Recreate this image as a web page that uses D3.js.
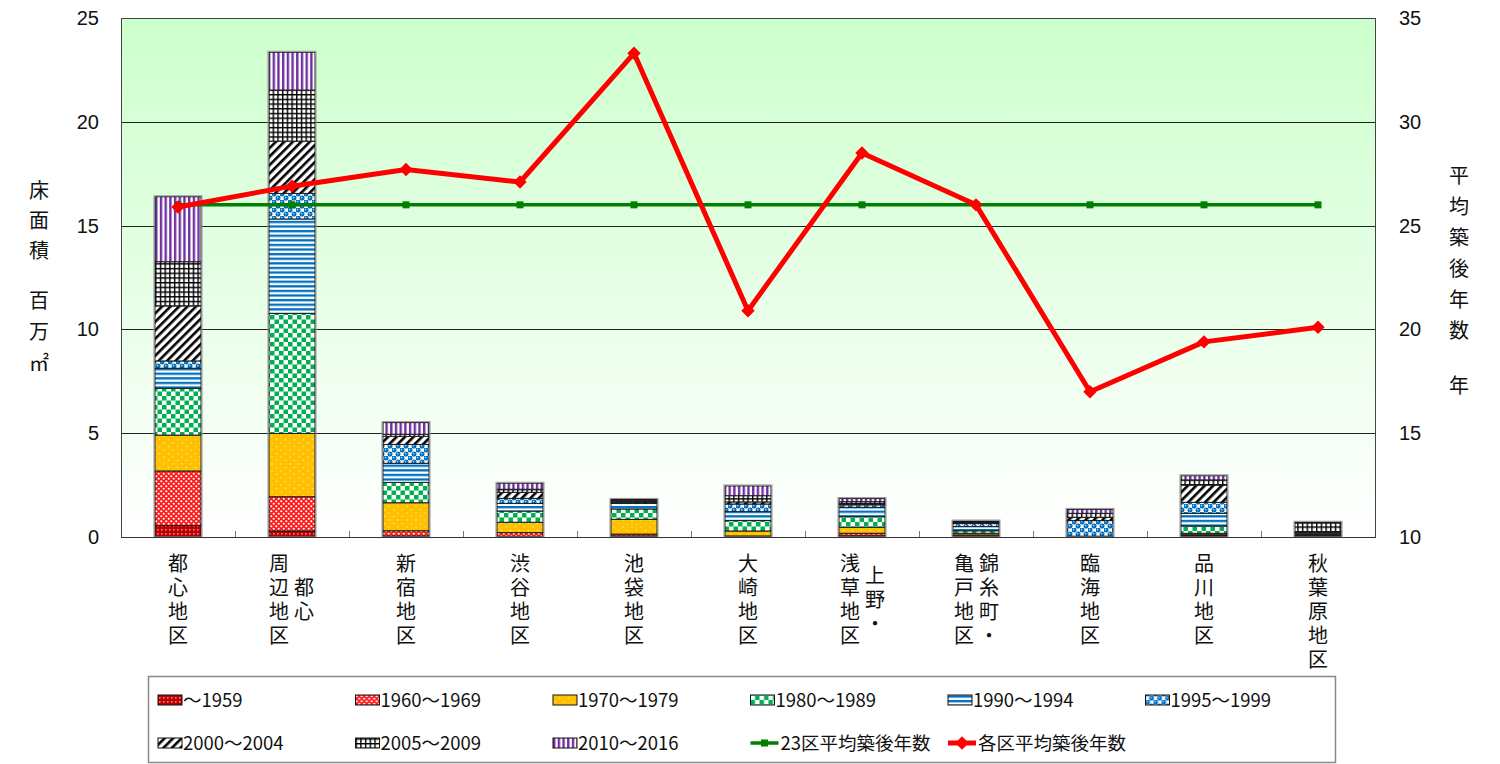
<!DOCTYPE html>
<html>
<head>
<meta charset="utf-8">
<script src="https://cdn.jsdelivr.net/npm/d3@7"></script>
<style>
  body { margin: 0; background: #fff; }
  svg { display: block; }
</style>
</head>
<body>
<svg id="chart" width="1500" height="764"></svg>
<script>
'use strict';

// ---- data ----
var districts = ['都心地区', '周辺都心地区', '新宿地区', '渋谷地区', '池袋地区', '大崎地区',
  '浅草・上野地区', '錦糸町・亀戸地区', '臨海地区', '品川地区', '秋葉原地区'];

// how the district names are broken into vertical columns: [text, row offset, x offset]
var districtLabelCols = [
  [['都心地区', 0, 0]],
  [['周辺地区', 0, -13], ['都心', 1, 12]],
  [['新宿地区', 0, 0]],
  [['渋谷地区', 0, 0]],
  [['池袋地区', 0, 0]],
  [['大崎地区', 0, 0]],
  [['浅草地区', 0, -12], ['上野・', 0.5, 13]],
  [['亀戸地区', 0, -12], ['錦糸町・', 0, 13]],
  [['臨海地区', 0, 0]],
  [['品川地区', 0, 0]],
  [['秋葉原地区', 0, 0]]
];

var periods = ['～1959', '1960～1969', '1970～1979', '1980～1989', '1990～1994',
  '1995～1999', '2000～2004', '2005～2009', '2010～2016'];

// floor area, million m2
var area1959 = [0.55, 0.29, 0.05, 0.03, 0.05, 0.02, 0.06, 0.04, 0.00, 0.06, 0.02];
var area1960 = [2.63, 1.65, 0.25, 0.18, 0.09, 0.03, 0.12, 0.06, 0.00, 0.05, 0.02];
var area1970 = [1.73, 3.05, 1.35, 0.50, 0.71, 0.24, 0.29, 0.08, 0.01, 0.07, 0.03];
var area1980 = [2.25, 5.78, 0.98, 0.54, 0.50, 0.50, 0.51, 0.12, 0.01, 0.35, 0.06];
var area1990 = [0.97, 4.55, 0.92, 0.37, 0.27, 0.43, 0.45, 0.20, 0.02, 0.61, 0.06];
var area1995 = [0.35, 1.23, 0.91, 0.24, 0.05, 0.37, 0.12, 0.16, 0.75, 0.53, 0.04];
var area2000 = [2.65, 2.52, 0.39, 0.29, 0.05, 0.10, 0.05, 0.03, 0.16, 0.83, 0.03];
var area2005 = [2.13, 2.46, 0.10, 0.15, 0.05, 0.30, 0.10, 0.05, 0.19, 0.25, 0.42];
var area2010 = [3.13, 1.82, 0.56, 0.29, 0.04, 0.47, 0.15, 0.03, 0.19, 0.20, 0.03];

// average building age, years
var avgYears = [25.9, 26.9, 27.7, 27.1, 33.3, 20.9, 28.5, 26.0, 17.0, 19.4, 20.1];
var ward23Years = [26.0, 26.0, 26.0, 26.0, 26.0, 26.0, 26.0, 26.0, 26.0, 26.0, 26.0];

var leftTicks = [0, 5, 10, 15, 20, 25];
var rightTicks = [10, 15, 20, 25, 30, 35];
var lineNames = ['23区平均築後年数', '各区平均築後年数'];

var areaSeries = [area1959, area1960, area1970, area1980, area1990, area1995, area2000, area2005, area2010];

// ---- layout ----
var plot = { l: 121, r: 1375, t: 18, b: 537 };
var jpFont = '"Noto Sans CJK JP", "Noto Sans", sans-serif';
var numFont = '"Liberation Sans", Arial, sans-serif';

var svg = d3.select('#chart');
var defs = svg.append('defs');

var grad = defs.append('linearGradient').attr('id', 'bg')
  .attr('x1', 0).attr('y1', 0).attr('x2', 0).attr('y2', 1);
grad.append('stop').attr('offset', '0%').attr('stop-color', '#ccffcc');
grad.append('stop').attr('offset', '100%').attr('stop-color', '#ffffff');

/* fill patterns, one per period */
var makePattern = function makePattern(id, w, h, bg, transform) {
  var p = defs.append('pattern').attr('id', id)
    .attr('patternUnits', 'userSpaceOnUse')
    .attr('width', w).attr('height', h);
  if (transform) { p.attr('patternTransform', transform); }
  p.append('rect').attr('width', w).attr('height', h).attr('fill', bg);
  return p;
};

var p;
p = makePattern('pt0', 4, 4, '#b80000');
p.append('rect').attr('x', 1).attr('y', 1).attr('width', 1.6).attr('height', 1.6).attr('fill', '#ff8080');

p = makePattern('pt1', 5, 5, '#ff1a1a');
p.append('circle').attr('cx', 1.25).attr('cy', 1.25).attr('r', 1.1).attr('fill', '#fff');
p.append('circle').attr('cx', 3.75).attr('cy', 3.75).attr('r', 1.1).attr('fill', '#fff');

p = makePattern('pt2', 9, 7, '#ffc000');
p.append('circle').attr('cx', 2).attr('cy', 2).attr('r', 0.8).attr('fill', '#ffe59a');
p.append('circle').attr('cx', 6.5).attr('cy', 5.5).attr('r', 0.8).attr('fill', '#ffe59a');

p = makePattern('pt3', 9, 9, '#ffffff');
p.append('rect').attr('width', 4.5).attr('height', 4.5).attr('fill', '#00b050');
p.append('rect').attr('x', 4.5).attr('y', 4.5).attr('width', 4.5).attr('height', 4.5).attr('fill', '#00b050');

p = makePattern('pt4', 4.6, 4.6, '#ffffff');
p.append('rect').attr('width', 4.6).attr('height', 2.3).attr('fill', '#0070c0');

// blue blobs with a pale centre
p = makePattern('pt5', 8, 8, '#ffffff');
[[2, 2], [6, 6], [-2, 6], [6, -2], [10, 6], [6, 10]].forEach(function (c) {
  p.append('circle').attr('cx', c[0]).attr('cy', c[1]).attr('r', 2.5).attr('fill', '#0070c0');
});
[[2, 2], [6, 6]].forEach(function (c) {
  p.append('circle').attr('cx', c[0] - 0.4).attr('cy', c[1] - 0.4).attr('r', 0.8).attr('fill', '#bdd7ee');
});

p = makePattern('pt6', 6, 6, '#ffffff', 'rotate(45)');
p.append('rect').attr('width', 2.6).attr('height', 6).attr('fill', '#000');

p = makePattern('pt7', 4.7, 4.7, '#ffffff');
p.append('rect').attr('width', 4.7).attr('height', 1.4).attr('fill', '#000');
p.append('rect').attr('width', 1.4).attr('height', 4.7).attr('fill', '#000');

p = makePattern('pt8', 4.7, 4.7, '#ffffff');
p.append('rect').attr('width', 2.4).attr('height', 4.7).attr('fill', '#7030a0');

var fillOf = function (i) { return 'url(#pt' + i + ')'; };

/* scales */
var x = d3.scaleBand().domain(districts).range([plot.l, plot.r])
  .paddingInner(0.596).paddingOuter(0.298);
var yL = d3.scaleLinear().domain([0, 25]).range([plot.b, plot.t]);
var yR = d3.scaleLinear().domain([10, 35]).range([plot.b, plot.t]);
var cx = function (d) { return x(d) + x.bandwidth() / 2; };

/* plot background + grid */
svg.append('rect')
  .attr('x', plot.l).attr('y', plot.t)
  .attr('width', plot.r - plot.l).attr('height', plot.b - plot.t)
  .attr('fill', 'url(#bg)');

svg.append('g').selectAll('line').data(leftTicks.slice(1))
  .enter().append('line')
  .attr('x1', plot.l).attr('x2', plot.r)
  .attr('y1', function (d) { return Math.round(yL(d)) + 0.5; })
  .attr('y2', function (d) { return Math.round(yL(d)) + 0.5; })
  .attr('stroke', '#222').attr('stroke-width', 1);

svg.append('rect')
  .attr('x', plot.l + 0.5).attr('y', plot.t + 0.5)
  .attr('width', plot.r - plot.l).attr('height', plot.b - plot.t)
  .attr('fill', 'none').attr('stroke', '#444').attr('stroke-width', 1);

/* stacked bars */
var rows = districts.map(function (d, i) {
  var r = { district: d };
  periods.forEach(function (k, j) { r[k] = areaSeries[j][i]; });
  return r;
});
var stacked = d3.stack().keys(periods)(rows);

var layers = svg.append('g').selectAll('g').data(stacked)
  .enter().append('g')
  .attr('fill', function (d, i) { return fillOf(i); });

layers.selectAll('rect').data(function (d) { return d; })
  .enter().append('rect')
  .filter(function (d) { return d[1] - d[0] > 0; })
  .attr('x', function (d) { return x(d.data.district); })
  .attr('width', x.bandwidth())
  .attr('y', function (d) { return yL(d[1]); })
  .attr('height', function (d) { return yL(d[0]) - yL(d[1]); })
  .attr('stroke', '#1a1a1a').attr('stroke-width', 1);

// light grey rim round each whole bar
var barTotal = function (i) { return d3.sum(areaSeries, function (s) { return s[i]; }); };
svg.append('g').selectAll('rect').data(districts)
  .enter().append('rect')
  .attr('x', function (d) { return x(d) - 1; })
  .attr('width', x.bandwidth() + 2)
  .attr('y', function (d, i) { return yL(barTotal(i)) - 1; })
  .attr('height', function (d, i) { return plot.b - yL(barTotal(i)) + 1; })
  .attr('fill', 'none').attr('stroke', '#999').attr('stroke-width', 1);

/* x axis baseline and ticks between categories */
svg.append('line')
  .attr('x1', plot.l).attr('x2', plot.r)
  .attr('y1', plot.b + 0.5).attr('y2', plot.b + 0.5)
  .attr('stroke', '#333').attr('stroke-width', 1.2);

svg.append('g').selectAll('line').data(districts.slice(1))
  .enter().append('line')
  .attr('x1', function (d) { return Math.round(x(d) - x.step() * x.paddingInner() / 2) + 0.5; })
  .attr('x2', function (d) { return Math.round(x(d) - x.step() * x.paddingInner() / 2) + 0.5; })
  .attr('y1', plot.b).attr('y2', plot.b - 6)
  .attr('stroke', '#777').attr('stroke-width', 1);

/* lines */
var line = d3.line()
  .x(function (d, i) { return cx(districts[i]); })
  .y(function (d) { return yR(d); });

svg.append('path').datum(ward23Years)
  .attr('d', line).attr('fill', 'none')
  .attr('stroke', '#008000').attr('stroke-width', 3.5);
svg.append('g').selectAll('rect').data(ward23Years)
  .enter().append('rect')
  .attr('x', function (d, i) { return cx(districts[i]) - 3.5; })
  .attr('y', function (d) { return yR(d) - 3.5; })
  .attr('width', 7).attr('height', 7).attr('fill', '#008000');

svg.append('path').datum(avgYears)
  .attr('d', line).attr('fill', 'none')
  .attr('stroke', '#ff0000').attr('stroke-width', 5).attr('stroke-linejoin', 'round');
var diamond = d3.symbol().type(d3.symbolSquare).size(90);
svg.append('g').selectAll('path').data(avgYears)
  .enter().append('path')
  .attr('d', diamond)
  .attr('transform', function (d, i) { return 'translate(' + cx(districts[i]) + ',' + yR(d) + ') rotate(45)'; })
  .attr('fill', '#ff0000');

/* axis labels */
svg.append('g').selectAll('text').data(leftTicks)
  .enter().append('text')
  .attr('x', 99).attr('y', function (d) { return yL(d); })
  .attr('dy', '0.35em').attr('text-anchor', 'end')
  .attr('font-family', numFont).attr('font-size', 20).attr('fill', '#111')
  .text(function (d) { return d; });

svg.append('g').selectAll('text').data(rightTicks)
  .enter().append('text')
  .attr('x', 1399).attr('y', function (d) { return yR(d); })
  .attr('dy', '0.35em').attr('text-anchor', 'start')
  .attr('font-family', numFont).attr('font-size', 20).attr('fill', '#111')
  .text(function (d) { return d; });

/* vertical (tategaki) text: x is the column centre, yTop the top of the first glyph */
var verticalText = function (str, xPos, yTop, advance) {
  svg.append('text')
    .attr('x', xPos).attr('y', yTop)
    .style('writing-mode', 'vertical-rl')
    .attr('text-anchor', 'start')
    .attr('font-family', jpFont).attr('font-size', 20).attr('fill', '#111')
    .attr('letter-spacing', advance - 20)
    .text(str);
};
verticalText('床面積', 39, 180, 30);
verticalText('百万㎡', 39, 290, 31);
verticalText('平均築後年数', 1459, 165, 31);
verticalText('年', 1459, 375, 20);

/* district names */
districts.forEach(function (d, i) {
  districtLabelCols[i].forEach(function (col) {
    verticalText(col[0], cx(d) + col[2], 553 + col[1] * 24, 24);
  });
});

/* legend */
var legend = svg.append('g');
legend.append('rect')
  .attr('x', 148.5).attr('y', 676.5).attr('width', 1187).attr('height', 86)
  .attr('fill', '#fff').attr('stroke', '#888').attr('stroke-width', 1.5);

var colX = function (c) { return 158 + c * 197.5; };
var rowY = [700, 743];

periods.forEach(function (name, i) {
  var col = i % 6, row = Math.floor(i / 6);
  var g = legend.append('g').attr('transform', 'translate(' + colX(col) + ',' + rowY[row] + ')');
  g.append('rect').attr('x', 0).attr('y', -5).attr('width', 24).attr('height', 10)
    .attr('fill', fillOf(i)).attr('stroke', '#111').attr('stroke-width', 1);
  g.append('text').attr('x', 25).attr('y', 0).attr('dy', '0.36em')
    .attr('font-family', jpFont).attr('font-size', 18.5).attr('fill', '#111')
    .text(name);
});

[['#008000', 3.5, 'sq'], ['#ff0000', 5, 'dia']].forEach(function (st, j) {
  var g = legend.append('g').attr('transform', 'translate(' + colX(3 + j) + ',' + rowY[1] + ')');
  g.append('line').attr('x1', 0).attr('x2', 28).attr('y1', 0).attr('y2', 0)
    .attr('stroke', st[0]).attr('stroke-width', st[1]);
  if (st[2] === 'sq') {
    g.append('rect').attr('x', 10.5).attr('y', -3.5).attr('width', 7).attr('height', 7).attr('fill', st[0]);
  } else {
    g.append('path').attr('d', diamond).attr('transform', 'translate(14,0) rotate(45)').attr('fill', st[0]);
  }
  g.append('text').attr('x', 30).attr('y', 0).attr('dy', '0.36em')
    .attr('font-family', jpFont).attr('font-size', 18.5).attr('fill', '#111')
    .text(lineNames[j]);
});
</script>
</body>
</html>
